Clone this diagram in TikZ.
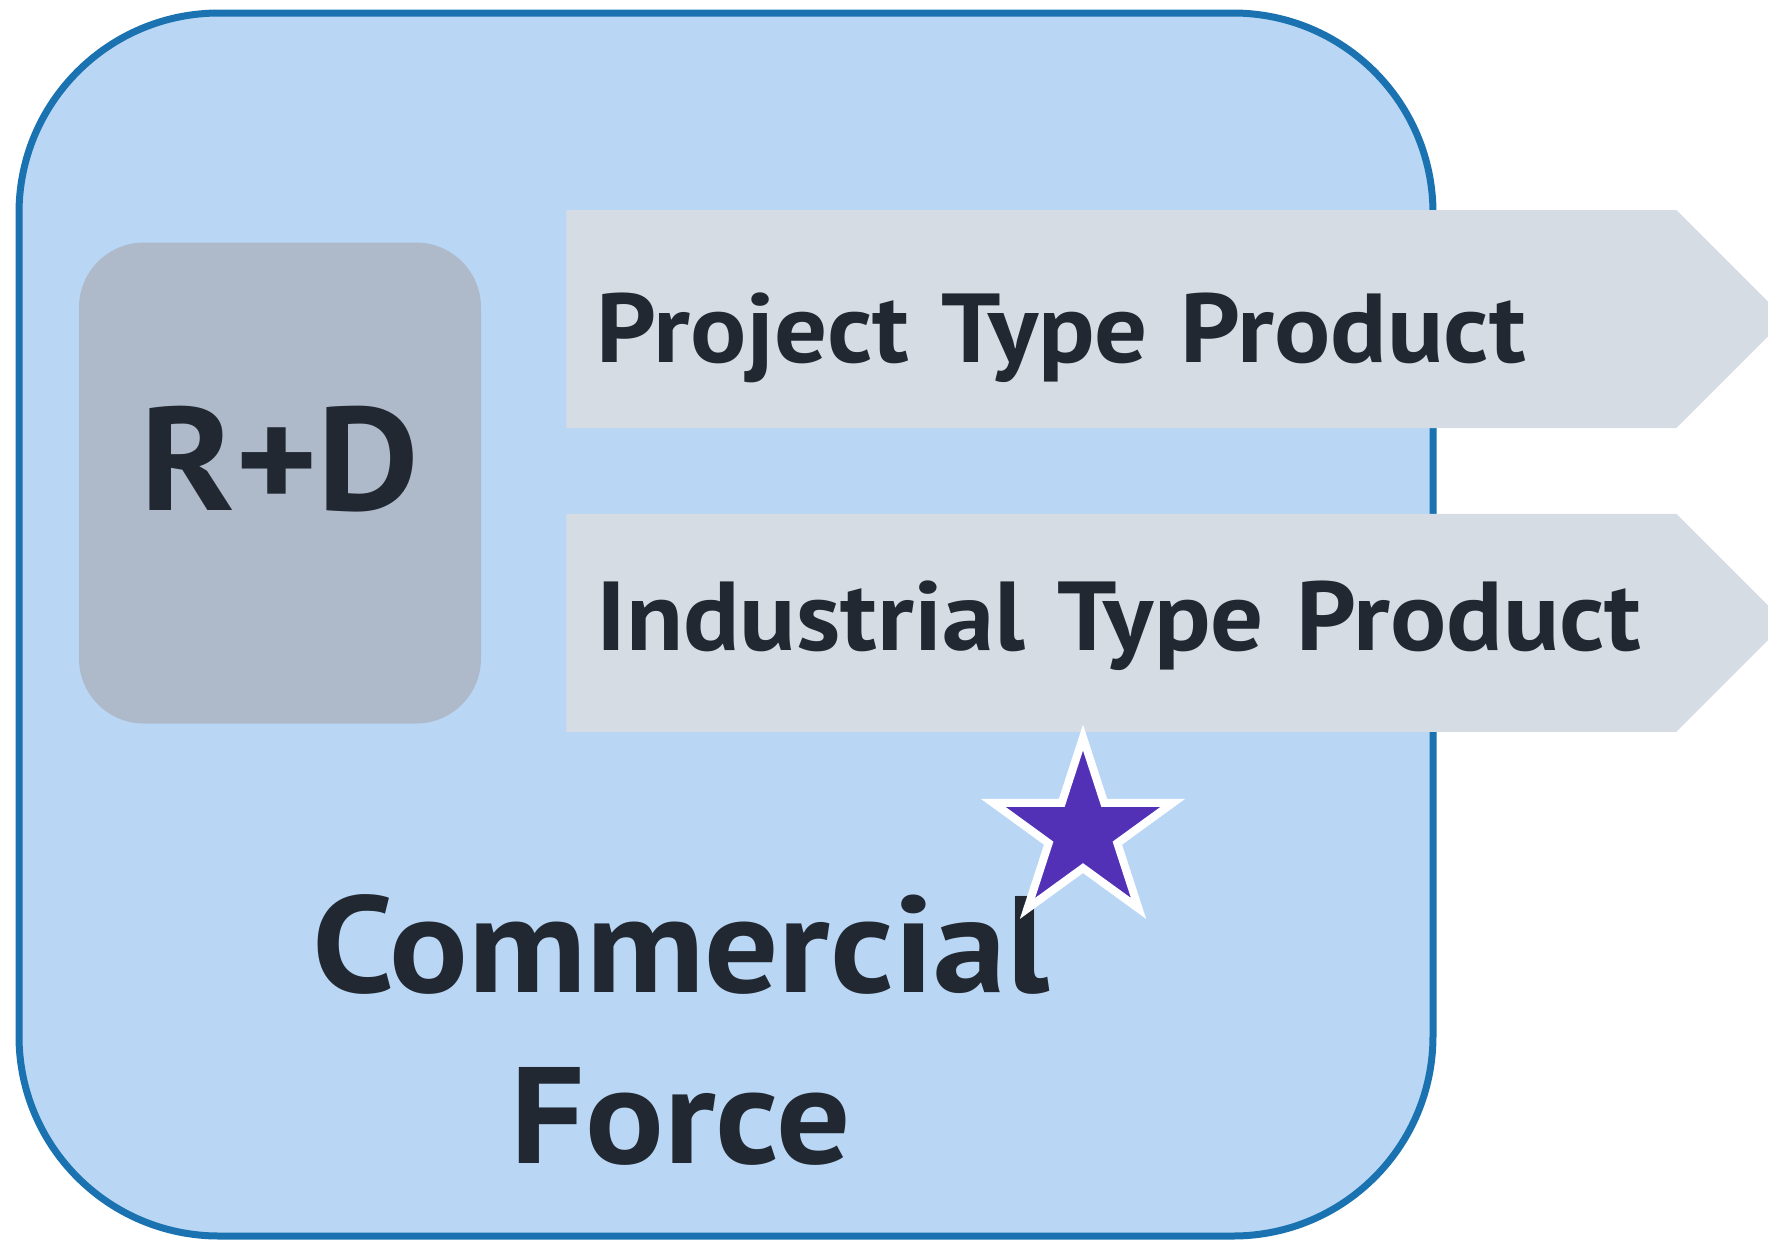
\documentclass[tikz,border=0pt]{standalone}
\usepackage{fontspec}
\setmainfont{PT Sans}[FakeStretch=1.07]
\usetikzlibrary{shapes,shapes.symbols,shadows,positioning}
\definecolor{forcefill}{HTML}{B9D7F5}
\definecolor{forceline}{HTML}{1A73B0}
\definecolor{typefill}{HTML}{D6DCE4}
\definecolor{rdfill}{HTML}{AEBACA}
\definecolor{ink}{HTML}{222831}
\definecolor{starfill}{HTML}{5331B7}
\tikzstyle{force} = [rectangle, draw=forceline, fill=forcefill, line width=3.5pt,
    rounded corners=100pt, minimum width=707pt, minimum height=611.5pt]
\tikzstyle{rdbox} = [rectangle, fill=rdfill, rounded corners=32.5pt, text=ink,
    minimum width=201pt, minimum height=240.5pt, text height=51.5pt, text depth=24.5pt,
    font=\fontsize{73.5}{80}\selectfont\bfseries]
\tikzstyle{typearrow} = [signal, signal to=east, signal pointer angle=90, fill=typefill,
    minimum height=109pt, inner xsep=15pt, text width=525pt, align=left, text=ink,
    text height=60pt, font=\fontsize{49}{58}\selectfont\bfseries, anchor=west,
    execute at begin node={\hyphenpenalty=10000\relax}]
\tikzstyle{forcetext} = [text=ink, align=center, font=\fontsize{68.6}{85.5}\selectfont\bfseries]
\tikzstyle{starmark} = [star, star points=5, star point ratio=2.618, fill=starfill,
    draw=white, line width=4pt, minimum size=94.5pt, inner sep=0pt,
    drop shadow={shadow xshift=1pt, shadow yshift=-1pt, opacity=.35}]

\begin{document}
\begin{tikzpicture}[x=0.5pt, y=-0.5pt]
    \useasboundingbox (0,0) rectangle (1768,1239);
    % Place nodes
    \node [force] (box) at (726,624.5) {};
    \node [typearrow, text depth=17pt] (project) at (566,319) {Project Type Product};
    \node [typearrow, text depth=32.5pt, below=42.5pt of project.south west, anchor=north west] (industrial) {Industrial Type Product};
    \node [rdbox] (rd) at (280,483) {R+D};
    \node [forcetext] (commercial) at (681,1030) {Commercial\\Force};
    \node [starmark] (star) at (1083,832) {};
\end{tikzpicture}
\end{document}
